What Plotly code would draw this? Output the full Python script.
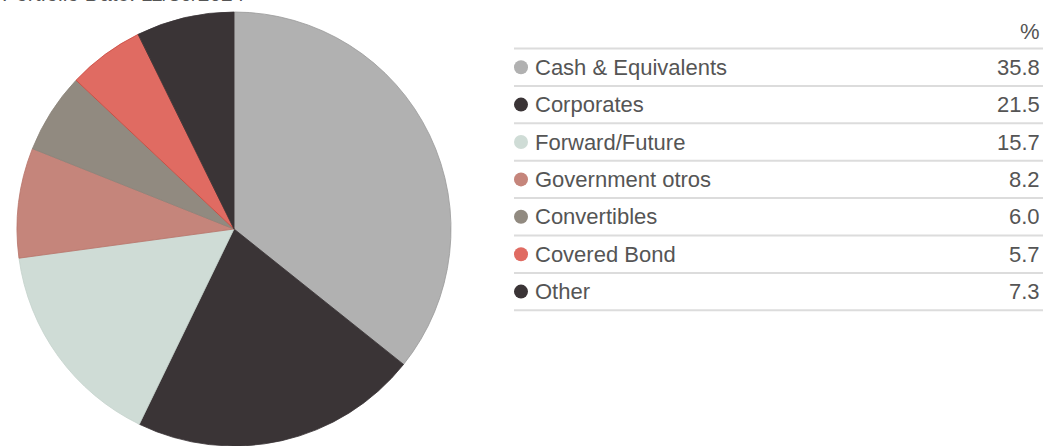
import plotly.graph_objects as go

# Portfolio breakdown
categories = ["Cash & Equivalents", "Corporates", "Forward/Future",
              "Government otros", "Convertibles", "Covered Bond", "Other"]
weights = [35.8, 21.5, 15.7, 8.2, 6.0, 5.7, 7.3]
value_labels = ["35.8", "21.5", "15.7", "8.2", "6.0", "5.7", "7.3"]
colors = ["#b1b1b1", "#3a3436", "#cfdcd6", "#c5857b", "#918a80", "#e06b62", "#3a3436"]
edge_colors = ["#999999", "#3a3436", "#c4d2cb", "#b8736a", "#8a8379", "#c9453b", "#3a3436"]
portfolio_date = "Portfolio Date: 11/30/2024"

W, H = 1043, 446
FONT = "Arial"
TEXT_COLOR = "#555555"
RULE_COLOR = "#dcdcdc"
TEXT_SIZE = 22

fig = go.Figure()

# Pie on the left
fig.add_trace(go.Pie(
    labels=categories,
    values=weights,
    sort=False,
    direction="clockwise",
    rotation=0,
    marker=dict(colors=colors, line=dict(color=edge_colors, width=0.8)),
    textinfo="none",
    hoverinfo="label+value",
    showlegend=False,
    domain=dict(x=[16 / W, 452 / W], y=[0, 1 - 12 / H]),
))

# Table layout (pixel coordinates on an overlay axis)
table_left, table_right = 514, W
header_y = 31
first_rule = 48.5
row_h = 37.4
dot_x = 521
label_x = 533
value_x = 1042

row_centers = [first_rule + row_h * (i + 0.5) for i in range(len(categories))]

fig.add_trace(go.Scatter(
    x=[dot_x] * len(categories),
    y=row_centers,
    mode="markers",
    marker=dict(size=14, color=colors, line=dict(width=0)),
    hoverinfo="skip",
    showlegend=False,
    xaxis="x", yaxis="y",
))

shapes = []
for k in range(len(categories) + 1):
    yy = first_rule + row_h * k
    shapes.append(dict(type="line", xref="x", yref="y",
                       x0=table_left, x1=table_right, y0=yy, y1=yy,
                       line=dict(color=RULE_COLOR, width=2), layer="below"))

annotations = [
    dict(x=value_x, y=header_y, xref="x", yref="y", text="%",
         showarrow=False, xanchor="right", yanchor="middle",
         font=dict(family=FONT, size=TEXT_SIZE, color=TEXT_COLOR)),
    dict(x=0, y=1 + 6.5 / H, xref="paper", yref="paper", text=portfolio_date,
         showarrow=False, xanchor="left", yanchor="middle",
         font=dict(family=FONT, size=21, color=TEXT_COLOR)),
]
for name, val, yc in zip(categories, value_labels, row_centers):
    annotations.append(dict(x=label_x, y=yc, xref="x", yref="y", text=name,
                            showarrow=False, xanchor="left", yanchor="middle",
                            font=dict(family=FONT, size=TEXT_SIZE, color=TEXT_COLOR)))
    annotations.append(dict(x=value_x, y=yc, xref="x", yref="y", text=val,
                            showarrow=False, xanchor="right", yanchor="middle",
                            font=dict(family=FONT, size=TEXT_SIZE, color=TEXT_COLOR)))

fig.update_layout(
    width=W, height=H,
    margin=dict(l=0, r=0, t=0, b=0),
    paper_bgcolor="white",
    plot_bgcolor="rgba(0,0,0,0)",
    xaxis=dict(range=[0, W], visible=False, fixedrange=True),
    yaxis=dict(range=[H, 0], visible=False, fixedrange=True),
    shapes=shapes,
    annotations=annotations,
)

fig.write_html("out.html")
